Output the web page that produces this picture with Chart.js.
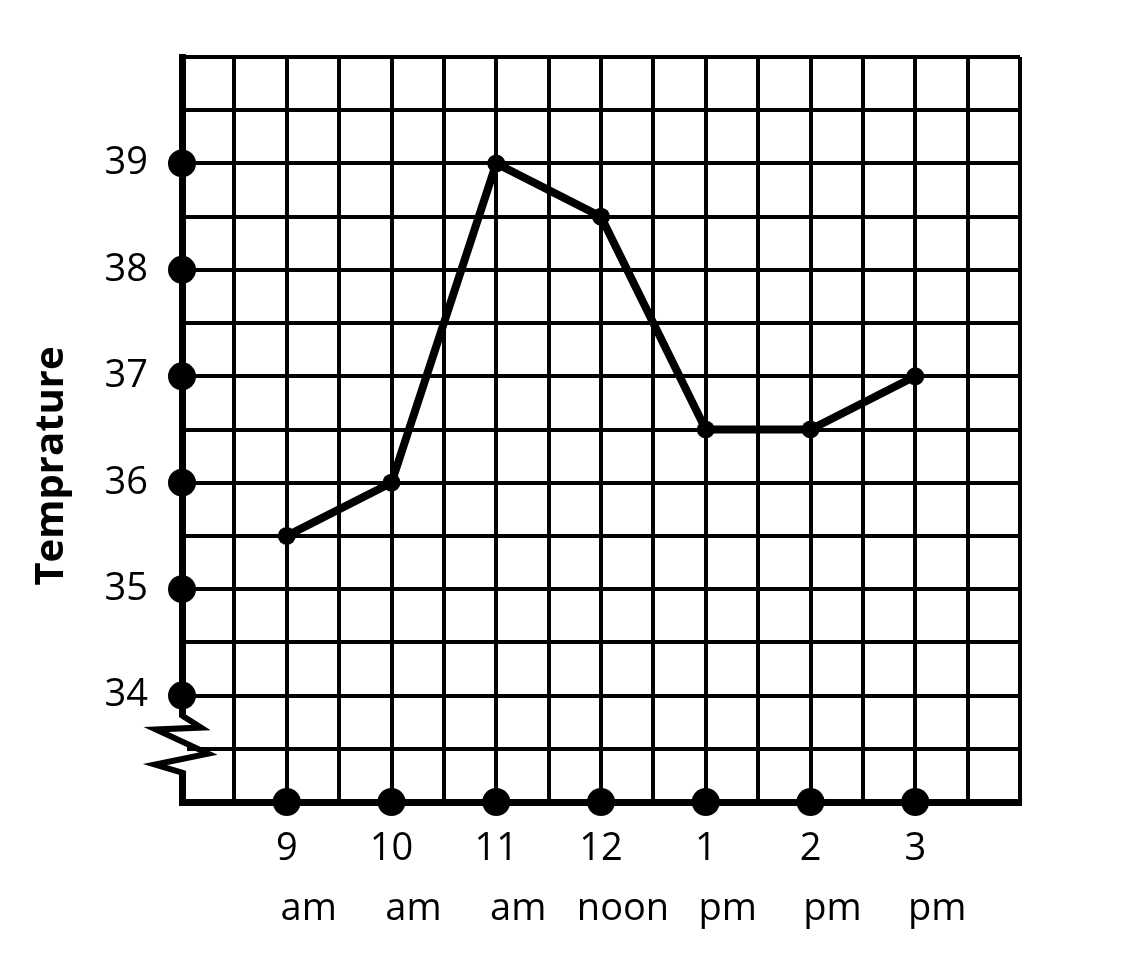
<!DOCTYPE html>
<html>
<head>
<meta charset="utf-8">
<script src="https://cdn.jsdelivr.net/npm/chart.js@4/dist/chart.umd.min.js"></script>
<style>
  html, body { margin: 0; padding: 0; background: #fff; }
  #chart { display: block; }
</style>
</head>
<body>
<canvas id="chart" width="1137" height="974"></canvas>
<script>
// hours along the bottom, two rows of text
const hours = ['9', '10', '11', '12', '1', '2', '3'];
const periods = ['am', 'am', 'am', 'noon', 'pm', 'pm', 'pm'];
// temperature read at each hour
const temps = [35.5, 36, 39, 38.5, 36.5, 36.5, 37];
// labelled values on the temperature axis
const yTicks = [34, 35, 36, 37, 38, 39];

const FONT = "'Open Sans', sans-serif";

// y title and the broken-axis zigzag
const extras = {
  id: 'extras',
  afterDatasetsDraw(chart) {
    const ctx = chart.ctx;
    const y = chart.scales.y;
    const ax = chart.scales.x.getPixelForValue(0);
    const top = y.getPixelForValue(34) + 22;
    const bot = y.getPixelForValue(33) - 29;

    ctx.save();
    // cut the axis where it breaks
    ctx.fillStyle = '#fff';
    ctx.fillRect(ax - 5, top, 10, bot - top);
    ctx.strokeStyle = '#000';
    ctx.lineWidth = 6;
    ctx.lineJoin = 'miter';
    ctx.miterLimit = 10;
    ctx.beginPath();
    ctx.moveTo(ax, top - 2);
    ctx.lineTo(ax + 19, top + 10);
    ctx.lineTo(ax - 26, top + 12);
    ctx.lineTo(ax + 26, top + 36);
    ctx.lineTo(ax - 27, top + 47);
    ctx.lineTo(ax + 1, bot);
    ctx.lineTo(ax + 1, bot + 4);
    ctx.stroke();

    // y title
    ctx.translate(52, 466);
    ctx.rotate(-Math.PI / 2);
    ctx.fillStyle = '#000';
    ctx.font = "bold 40px " + FONT;
    ctx.textAlign = 'center';
    ctx.textBaseline = 'middle';
    ctx.fillText('Temprature', 0, 0);
    ctx.restore();
  }
};

const gridStyle = { color: '#000', lineWidth: 4, drawTicks: false };

new Chart(document.getElementById('chart'), {
  type: 'line',
  data: {
    datasets: [
      {
        data: hours.map((h, i) => ({ x: i + 1, y: temps[i] })),
        borderColor: '#000',
        borderWidth: 8,
        pointRadius: 9,
        pointBackgroundColor: '#000',
        pointBorderWidth: 0,
        tension: 0
      },
      {
        // dots on the temperature axis
        data: yTicks.map(v => ({ x: 0, y: v })),
        showLine: false,
        pointRadius: 14,
        pointBackgroundColor: '#000',
        pointBorderWidth: 0,
        clip: false
      },
      {
        // dots on the time axis
        data: hours.map((h, i) => ({ x: i + 1, y: 33 })),
        showLine: false,
        pointRadius: 14,
        pointBackgroundColor: '#000',
        pointBorderWidth: 0,
        clip: false
      }
    ]
  },
  options: {
    responsive: false,
    animation: false,
    layout: { padding: { top: 57, right: 117, left: 0, bottom: 0 } },
    plugins: {
      legend: { display: false },
      tooltip: { enabled: false }
    },
    scales: {
      x: {
        type: 'linear',
        position: 'bottom',
        min: 0,
        max: 8,
        afterFit: s => { s.height = 60; },
        grid: gridStyle,
        border: { color: '#000', width: 7 },
        ticks: {
          stepSize: 0.5,
          autoSkip: false,
          maxRotation: 0,
          padding: 24,
          color: '#000',
          font: { family: FONT, size: 38 },
          callback: v => (Number.isInteger(v) && v >= 1 && v <= hours.length) ? hours[v - 1] : ''
        }
      },
      x2: {
        type: 'linear',
        position: 'bottom',
        min: 0,
        max: 8,
        afterFit: s => { s.height = 112; },
        grid: { display: false, drawTicks: false },
        border: { display: false },
        ticks: {
          stepSize: 0.5,
          autoSkip: false,
          maxRotation: 0,
          padding: 24,
          labelOffset: 22,
          color: '#000',
          font: { family: FONT, size: 38 },
          callback: v => (Number.isInteger(v) && v >= 1 && v <= periods.length) ? periods[v - 1] : ''
        }
      },
      y: {
        type: 'linear',
        min: 33,
        max: 40,
        afterFit: s => { s.width = 182; },
        grid: gridStyle,
        border: { color: '#000', width: 7 },
        ticks: {
          stepSize: 0.5,
          autoSkip: false,
          padding: 34,
          color: '#000',
          font: { family: FONT, size: 38 },
          callback: v => yTicks.includes(v) ? String(v) : ''
        }
      }
    }
  },
  plugins: [extras]
});
</script>
</body>
</html>
